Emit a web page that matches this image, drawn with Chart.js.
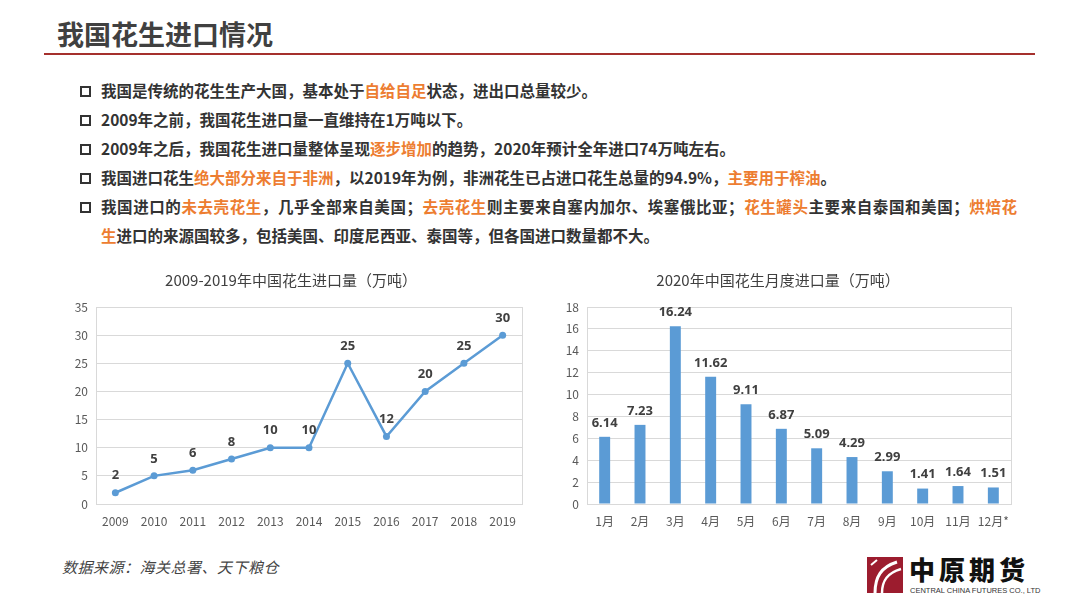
<!DOCTYPE html>
<html>
<head>
  <meta charset="UTF-8">
  <title>我国花生进口情况</title>
  <script src="https://cdn.jsdelivr.net/npm/chart.js"></script>
  <style>
    body {
      margin: 0;
      width: 1080px;
      height: 608px;
      background: #fff;
      position: relative;
      overflow: hidden;
      font-family: "Noto Sans CJK SC", "Noto Sans", sans-serif;
    }
    .title {
      position: absolute;
      left: 57px;
      top: 16px;
      font-size: 27px;
      font-weight: 700;
      color: #404040;
      line-height: 36px;
    }
    .rule {
      position: absolute;
      left: 44px;
      top: 53px;
      width: 991px;
      height: 2px;
      background: #a5302d;
    }
    .bullets {
      position: absolute;
      left: 101px;
      top: 76px;
      font-size: 15.5px;
      font-weight: 700;
      color: #333;
      line-height: 29px;
      white-space: nowrap;
    }
    .bullets .row { position: relative; }
    .bullets .row::before {
      content: "";
      position: absolute;
      left: -21px;
      top: 10px;
      width: 7px;
      height: 7px;
      border: 2px solid #333;
    }
    .bullets .cont::before { display: none; }
    .just {
      display: block;
      width: 916px;
      text-align: justify;
      text-align-last: justify;
    }
    .hl { color: #ed7d31; }
    .chart {
      position: absolute;
      top: 265px;
    }
    .source {
      position: absolute;
      left: 62px;
      top: 556px;
      font-size: 15px;
      font-style: italic;
      color: #444;
      letter-spacing: 0.5px;
    }
    .logo {
      position: absolute;
      left: 867px;
      top: 557px;
    }
    .logo-cn {
      position: absolute;
      left: 909px;
      top: 552px;
      font-size: 26px;
      font-weight: 900;
      color: #111;
      letter-spacing: 4px;
      line-height: 34px;
    }
    .logo-en {
      position: absolute;
      left: 910px;
      top: 586px;
      font-family: "Liberation Sans", sans-serif;
      font-size: 7.5px;
      color: #333;
      white-space: nowrap;
    }
  </style>
</head>
<body>
  <div class="title">我国花生进口情况</div>
  <div class="rule"></div>

  <div class="bullets">
    <div class="row">我国是传统的花生生产大国，基本处于<span class="hl">自给自足</span>状态，进出口总量较少。</div>
    <div class="row">2009年之前，我国花生进口量一直维持在1万吨以下。</div>
    <div class="row">2009年之后，我国花生进口量整体呈现<span class="hl">逐步增加</span>的趋势，2020年预计全年进口74万吨左右。</div>
    <div class="row">我国进口花生<span class="hl">绝大部分来自于非洲</span>，以2019年为例，非洲花生已占进口花生总量的94.9%，<span class="hl">主要用于榨油</span>。</div>
    <div class="row"><span class="just">我国进口的<span class="hl">未去壳花生</span>，几乎全部来自美国；<span class="hl">去壳花生</span>则主要来自塞内加尔、埃塞俄比亚；<span class="hl">花生罐头</span>主要来自泰国和美国；<span class="hl">烘焙花</span></span></div>
    <div class="row cont"><span class="hl">生</span>进口的来源国较多，包括美国、印度尼西亚、泰国等，但各国进口数量都不大。</div>
  </div>

  <canvas id="yearChart" class="chart" style="left:60px" width="480" height="270"></canvas>
  <canvas id="monthChart" class="chart" style="left:545px" width="480" height="270"></canvas>

  <div class="source">数据来源：海关总署、天下粮仓</div>

  <svg class="logo" width="36" height="36" viewBox="0 0 36 36">
    <rect width="36" height="36" fill="#9c1c2e"/>
    <path d="M8 36 C8 20 14 10 30 5" stroke="#fff" stroke-width="3" fill="none"/>
    <path d="M15 36 C15 24 20 16 34 12" stroke="#fff" stroke-width="2.5" fill="none"/>
    <path d="M4 8 L10 3" stroke="#fff" stroke-width="2" fill="none"/>
  </svg>
  <div class="logo-cn">中原期货</div>
  <div class="logo-en">CENTRAL CHINA FUTURES CO., LTD</div>

  <script>
    // 2009-2019 yearly imports (万吨)
    const years = ['2009', '2010', '2011', '2012', '2013', '2014', '2015', '2016', '2017', '2018', '2019'];
    const yearlyImports = [2, 5, 6, 8, 10, 10, 25, 12, 20, 25, 30];

    // 2020 monthly imports (万吨)
    const months = ['1月', '2月', '3月', '4月', '5月', '6月', '7月', '8月', '9月', '10月', '11月', '12月*'];
    const monthlyImports = [6.14, 7.23, 16.24, 11.62, 9.11, 6.87, 5.09, 4.29, 2.99, 1.41, 1.64, 1.51];

    const tickFont = { family: '"Noto Sans CJK SC", "Noto Sans", sans-serif', size: 12 };
    const gridColor = '#d9d9d9';

    // light frame round the plot area
    const frame = {
      id: 'frame',
      beforeDatasetsDraw(chart) {
        const a = chart.chartArea, ctx = chart.ctx;
        ctx.save();
        ctx.strokeStyle = gridColor;
        ctx.lineWidth = 1;
        ctx.strokeRect(Math.round(a.left) + 0.5, Math.round(a.top) + 0.5, Math.round(a.width), Math.round(a.height));
        ctx.restore();
      }
    };

    // value labels above each point / bar
    const valueLabels = {
      id: 'valueLabels',
      afterDatasetsDraw(chart, args, opts) {
        const ctx = chart.ctx;
        const ds = chart.data.datasets[0];
        const meta = chart.getDatasetMeta(0);
        ctx.save();
        ctx.font = 'bold 13px "Noto Sans", "Noto Sans CJK SC", sans-serif';
        ctx.fillStyle = '#404040';
        ctx.textAlign = 'center';
        ctx.textBaseline = 'middle';
        meta.data.forEach((el, i) => {
          const v = ds.data[i];
          ctx.fillText(opts.decimals ? v.toFixed(opts.decimals) : String(v), el.x, el.y - opts.offset);
        });
        ctx.restore();
      }
    };

    function titleOpts(text) {
      return {
        display: true,
        text: text,
        color: '#404040',
        font: { family: '"Noto Sans CJK SC", sans-serif', size: 15, weight: 'normal', lineHeight: 1.2 },
        padding: { top: 6, bottom: 18 }
      };
    }

    new Chart(document.getElementById('yearChart'), {
      type: 'line',
      data: {
        labels: years,
        datasets: [{
          data: yearlyImports,
          borderColor: '#5b9bd5',
          backgroundColor: '#5b9bd5',
          borderWidth: 2.5,
          tension: 0,
          pointRadius: 3.5,
          pointBackgroundColor: '#5b9bd5',
          pointBorderWidth: 0
        }]
      },
      options: {
        responsive: false,
        animation: false,
        layout: { padding: { left: 0, right: 18, top: 0, bottom: 0 } },
        plugins: {
          legend: { display: false },
          tooltip: { enabled: false },
          title: titleOpts('2009-2019年中国花生进口量（万吨）'),
          valueLabels: { offset: 17 }
        },
        scales: {
          x: {
            offset: true,
            grid: { display: false },
            border: { display: false },
            ticks: { color: '#595959', font: tickFont, padding: 2, maxRotation: 0 },
            afterFit(s) { s.height = 31; }
          },
          y: {
            min: 0,
            max: 35,
            ticks: { stepSize: 5, color: '#595959', font: tickFont, padding: 8 },
            grid: { color: gridColor, drawTicks: false },
            border: { display: false },
            afterFit(s) { s.width = 36; }
          }
        }
      },
      plugins: [frame, valueLabels]
    });

    new Chart(document.getElementById('monthChart'), {
      type: 'bar',
      data: {
        labels: months,
        datasets: [{
          data: monthlyImports,
          backgroundColor: '#5b9bd5',
          barPercentage: 0.62,
          categoryPercentage: 0.5
        }]
      },
      options: {
        responsive: false,
        animation: false,
        layout: { padding: { left: 0, right: 14, top: 0, bottom: 0 } },
        plugins: {
          legend: { display: false },
          tooltip: { enabled: false },
          title: titleOpts('2020年中国花生月度进口量（万吨）'),
          valueLabels: { offset: 14, decimals: 2 }
        },
        scales: {
          x: {
            grid: { display: false },
            border: { display: false },
            ticks: { color: '#595959', font: tickFont, padding: 2, maxRotation: 0 },
            afterFit(s) { s.height = 31; }
          },
          y: {
            min: 0,
            max: 18,
            ticks: { stepSize: 2, color: '#595959', font: tickFont, padding: 8 },
            grid: { color: gridColor, drawTicks: false },
            border: { display: false },
            afterFit(s) { s.width = 42; }
          }
        }
      },
      plugins: [frame, valueLabels]
    });
  </script>
</body>
</html>
